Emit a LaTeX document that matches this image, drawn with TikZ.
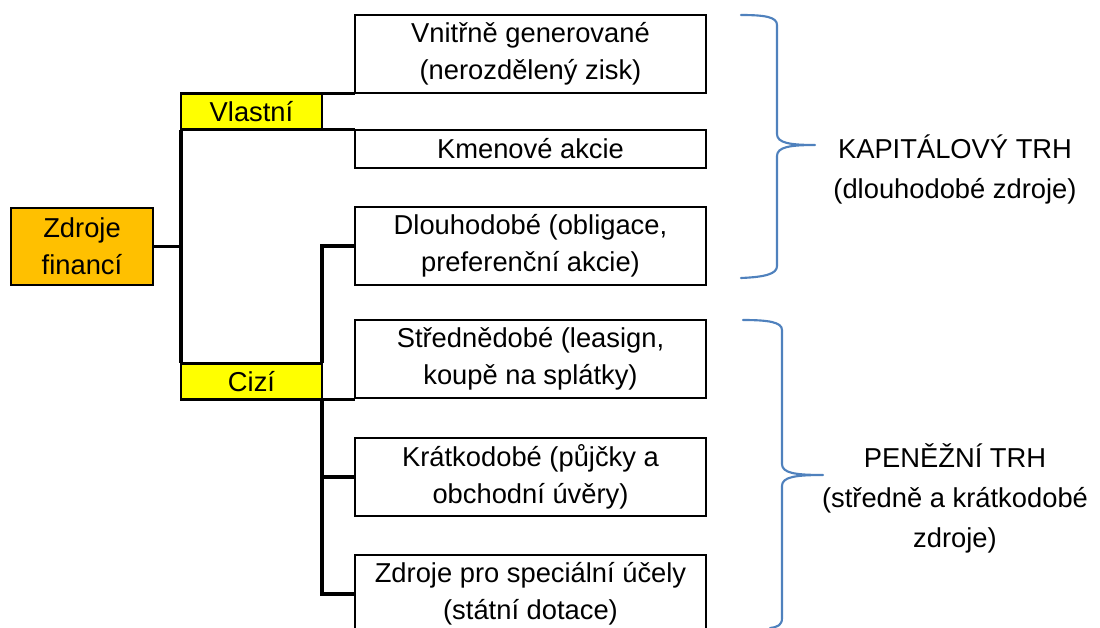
\documentclass[tikz,border=0pt]{standalone}
\usepackage{fontspec}
\setmainfont{Liberation Sans}
\definecolor{boxorange}{HTML}{FFC000}
\definecolor{boxyellow}{HTML}{FFFF00}
\definecolor{braceblue}{HTML}{4F81BD}
\begin{document}
\begin{tikzpicture}[x=0.75pt,y=-0.75pt,
  txt/.style={font=\fontsize{20.5}{27.75}\selectfont, align=center},
  base/.style={txt, draw=black, line width=2.2pt, inner sep=0pt, outer sep=0pt},
  leaf/.style={base, fill=white, minimum width=263.25pt, minimum height=58.5pt},
  leafsmall/.style={leaf, minimum height=28.5pt},
  cat/.style={base, fill=boxyellow, minimum width=105.75pt, minimum height=27.5pt},
  root/.style={base, fill=boxorange, minimum width=106.5pt, minimum height=57.75pt},
  conn/.style={draw=black, line width=2.4pt},
  brace/.style={draw=braceblue, line width=1.6pt, line join=round, line cap=round},
  label/.style={font=\fontsize{20.5}{30}\selectfont, align=center}]
\useasboundingbox (0,0) rectangle (1100,628);
\clip (0,0) rectangle (1100,628);

% nodes
\node[root] (zf) at (82,246.5) {Zdroje\\financí};
\node[cat] (vl) at (251.5,111.5) {Vlastní};
\node[cat] (ci) at (251.5,381.5) {Cizí};
\node[leaf] (b1) at (530.5,54) {Vnitřně generované\\(nerozdělený zisk)};
\node[leafsmall] (b2) at (530.5,149) {Kmenové akcie};
\node[leaf] (b3) at (530.5,246) {Dlouhodobé (obligace,\\preferenční akcie)};
\node[leaf] (b4) at (530.5,359) {Střednědobé (leasign,\\koupě na splátky)};
\node[leaf] (b5) at (530.5,477) {Krátkodobé (půjčky a\\obchodní úvěry)};
\node[leaf] (b6) at (530.5,594) {Zdroje pro speciální účely\\(státní dotace)};

% connectors
\draw[conn] (zf.east) -- (vl.west |- zf.east);
\draw[conn] (vl.south west) -- (ci.north west);
\draw[conn] (vl.north east) -- (vl.north east -| b1.west);
\draw[conn] (vl.south east) -- (vl.south east -| b2.west);
\draw[conn] (ci.north east) -- (ci.east |- b3.west) -- (b3.west);
\draw[conn] (ci.south east) -- (ci.south east -| b4.west);
\draw[conn] (ci.south east) -- (ci.east |- b6.west) -- (b6.west);
\draw[conn] (ci.east |- b5.west) -- (b5.west);

% braces
\draw[brace] (741,15) .. controls (765,15) and (777,17) .. (777,25)
  -- (777,134) .. controls (777,143) and (790,145) .. (815,145)
  .. controls (790,145) and (777,147) .. (777,156)
  -- (777,266) .. controls (777,274) and (765,277) .. (741,278);
\draw[brace] (743,320) .. controls (768,320) and (782,322) .. (782,330)
  -- (782,464) .. controls (782,473) and (795,475) .. (823,475)
  .. controls (795,475) and (782,477) .. (782,486)
  -- (782,618) .. controls (782,625) and (778,627) .. (770,628);

% labels
\node[label] (kt) at (955,169) {KAPITÁLOVÝ TRH\\(dlouhodobé zdroje)};
\node[label] (pt) at (955,498) {PENĚŽNÍ TRH\\(středně a krátkodobé\\zdroje)};
\end{tikzpicture}
\end{document}
